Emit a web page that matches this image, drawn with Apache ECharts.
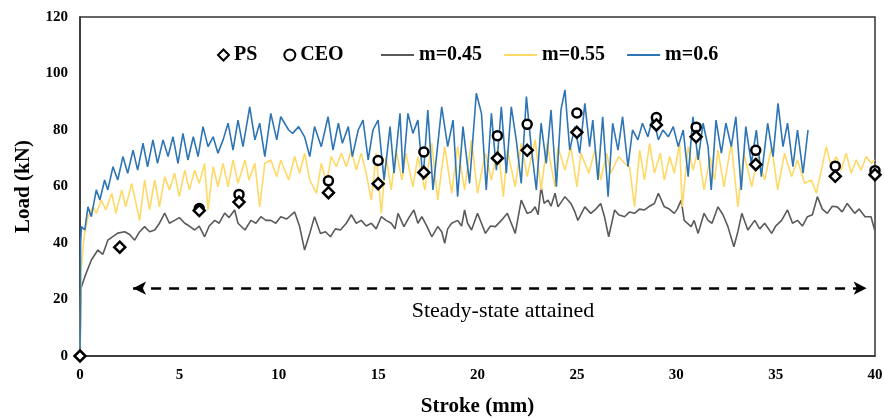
<!DOCTYPE html>
<html>
<head>
<meta charset="utf-8">
<script src="https://cdn.jsdelivr.net/npm/echarts@6/dist/echarts.min.js"></script>
<style>html,body{margin:0;padding:0;background:#fff}#c{width:884px;height:418px}</style>
</head>
<body>
<div id="c"></div>
<script>
// ---- data (x = stroke mm, y = load kN) ----
var xTicks = [0, 5, 10, 15, 20, 25, 30, 35, 40];
var yTicks = [0, 20, 40, 60, 80, 100, 120];

var psX  = [0, 2, 6, 8, 12.5, 15, 17.3, 21, 22.5, 25, 29, 31, 34, 38, 40];
var psY  = [0, 38.5, 51.5, 54.5, 57.8, 61, 65, 70, 72.8, 79.2, 81.8, 77.6, 67.8, 63.6, 64.2];
var ceoX = [6, 8, 12.5, 15, 17.3, 21, 22.5, 25, 29, 31, 34, 38, 40];
var ceoY = [52.2, 57.2, 62, 69.2, 72.2, 78, 82, 86, 84.4, 81, 72.8, 67.2, 65.6];

var m045 = [[0,0],[0.05,24],[0.24,28],[0.57,34],[0.9,37.5],[1.15,36],[1.4,41],[1.9,43.5],[2.25,44],[2.5,43],[2.75,41],[3.0,44],[3.25,45.8],[3.5,44],[3.76,44.6],[4.0,47],[4.26,50.6],[4.5,47],[4.76,48],[5.0,49],[5.27,47],[5.5,46],[5.77,44.6],[6.0,46],[6.27,42.2],[6.5,46],[6.78,48],[7.0,47],[7.28,50.6],[7.5,49],[7.78,51.7],[7.95,47],[8.3,44.6],[8.6,48],[8.85,47],[9.1,49.3],[9.35,48],[9.6,48],[9.85,47],[10.1,49.3],[10.4,48.5],[10.8,51],[11.05,45.8],[11.3,37.5],[11.56,43.4],[11.8,49.3],[12.1,43.4],[12.35,44],[12.6,42.2],[12.85,45],[13.1,44.6],[13.4,47],[13.65,50],[13.9,47],[14.15,48],[14.4,46],[14.66,47],[14.9,45],[15.16,49.3],[15.4,48],[15.66,47],[15.85,45],[16,50.5],[16.3,45.8],[16.55,49],[16.8,51.7],[17.0,47],[17.2,49.3],[17.45,46],[17.7,42.2],[18,45.8],[18.2,44],[18.35,39.9],[18.5,45],[18.7,47],[19,48],[19.2,46],[19.35,51.7],[19.5,47],[19.7,44.6],[20,50.5],[20.2,47],[20.4,43.4],[20.65,46],[20.9,45.8],[21.2,48],[21.5,50.5],[21.7,47],[21.9,43.4],[22.2,55.2],[22.5,50.5],[22.7,51],[22.9,52.8],[23.05,50],[23.2,60],[23.35,54],[23.55,55.2],[23.7,53],[23.9,57.6],[24.05,52.8],[24.4,56.4],[24.7,54],[24.9,51],[25.05,48],[25.4,52.8],[25.7,50.5],[25.95,52],[26.2,54],[26.4,49],[26.6,42.2],[26.9,51.7],[27.1,50],[27.4,49.3],[27.65,51],[27.9,50.5],[28.15,52],[28.4,51.7],[28.65,53],[28.9,54],[29.1,57.6],[29.4,52.8],[29.65,52],[29.9,50.5],[30.05,52],[30.25,55.2],[30.4,48],[30.75,45.8],[30.9,48],[31.1,43.4],[31.4,50.5],[31.6,48],[31.8,47],[32.1,52.8],[32.35,50],[32.6,45.8],[32.9,38.7],[33.1,44],[33.3,50.5],[33.6,44.6],[33.95,48],[34.2,45],[34.45,47],[34.8,43.4],[35.0,46],[35.3,48],[35.6,51.7],[35.85,47],[36.1,48],[36.35,46],[36.6,49.3],[36.85,50],[37.1,56.4],[37.35,52],[37.6,50.5],[37.85,53],[38.1,52.8],[38.35,51],[38.6,54],[38.98,50.5],[39.2,52],[39.5,49.3],[39.8,49.3],[39.98,44.6]];

var m055 = [[0,0],[0.05,30],[0.2,42],[0.4,49.3],[0.65,52.8],[0.82,50.5],[1.07,55.2],[1.3,51.7],[1.6,57.6],[1.8,50.5],[2.1,58.8],[2.3,52.8],[2.6,61.1],[3.0,48],[3.25,62.3],[3.5,51.7],[3.76,62.3],[4.0,52.8],[4.26,63.5],[4.5,58.8],[4.76,64.7],[5.0,56.4],[5.27,65.8],[5.5,58.8],[5.77,65.8],[6.0,61.1],[6.27,68.2],[6.44,51.7],[6.7,67],[6.94,59.9],[7.2,68.2],[7.45,59.9],[7.7,69.4],[7.95,61.1],[8.3,69.4],[8.5,62.3],[8.8,68.2],[9.04,52.8],[9.3,68.2],[9.6,69.4],[9.9,63.5],[10.1,69.4],[10.5,62.3],[10.8,70.6],[11.05,64.7],[11.3,71.8],[11.56,62.3],[11.9,57.6],[12.14,68.2],[12.4,61.1],[12.64,70.6],[12.9,67],[13.15,71.8],[13.4,67],[13.65,72.9],[13.9,65.8],[14.15,71.8],[14.4,64.7],[14.66,55.2],[14.9,71.8],[15.16,50.5],[15.4,70.6],[15.66,58.8],[15.9,72.9],[16.2,62.3],[16.4,71.8],[16.75,59.9],[17,70.6],[17.35,58.8],[17.7,75.3],[18,55.2],[18.35,74.1],[18.7,57.6],[19,74.1],[19.35,58.8],[19.7,76.5],[20,57.6],[20.4,71.8],[20.7,62.3],[21.03,74.1],[21.3,56.4],[21.5,72.9],[21.9,59.9],[22.2,75.3],[22.5,63.5],[22.9,76.5],[23.2,58.8],[23.5,75.3],[23.9,59.9],[24.05,74.1],[24.4,65.8],[24.7,74.1],[25,59.9],[25.2,71.8],[25.6,64.7],[25.9,72.9],[26.2,62.3],[26.5,71.8],[26.7,64.7],[27.1,70.6],[27.4,68.2],[27.65,67],[27.9,52.8],[28.16,72.9],[28.4,62.3],[28.66,75.3],[28.9,64.7],[29.2,71.8],[29.4,62.3],[29.67,70.6],[29.9,64.7],[30.17,75.3],[30.3,52.8],[30.6,74.1],[30.84,65.8],[31.1,72.9],[31.4,58.8],[31.7,70.6],[31.93,62.3],[32.1,72.9],[32.4,59.9],[32.77,75.3],[33.1,52.8],[33.4,71.8],[33.8,59.9],[34.1,70.6],[34.45,62.3],[34.8,74.1],[35.1,58.8],[35.45,71.8],[35.8,63.5],[36.1,69.4],[36.46,61.1],[36.8,62.3],[37.05,57.6],[37.3,65.8],[37.55,74.1],[37.8,67],[38.05,70.6],[38.3,65.8],[38.55,71.8],[38.8,64.7],[39.06,69.4],[39.3,65.8],[39.56,70.6],[39.8,68.2],[39.98,69.4]];

var m06 = [[0,0],[0.03,40],[0.07,45.8],[0.24,44.6],[0.4,52.8],[0.57,49.3],[0.82,58.8],[1.0,55.2],[1.24,62.3],[1.4,58.8],[1.66,67],[1.9,62.3],[2.16,70.6],[2.4,64.7],[2.67,72.9],[2.9,65.8],[3.17,75.3],[3.4,67],[3.67,76.5],[3.9,68.2],[4.18,76.5],[4.43,70.6],[4.68,77.6],[4.93,68.2],[5.18,78.8],[5.43,69.4],[5.7,77.6],[5.94,70.6],[6.19,81.2],[6.44,74.1],[6.7,77.6],[6.94,71.8],[7.2,76.5],[7.45,82.4],[7.7,72.9],[7.95,83.5],[8.2,74.1],[8.54,88.2],[8.8,76.5],[9.04,82.4],[9.3,70.6],[9.6,85.9],[9.9,76.5],[10.1,84.7],[10.5,80],[10.7,78.8],[11,81.2],[11.3,77.6],[11.56,70.6],[11.8,81.2],[12.14,74.1],[12.48,84.7],[12.73,72.9],[13,82.4],[13.2,75.3],[13.5,81.2],[13.7,70.6],[14,80],[14.24,83.5],[14.5,69.4],[14.74,80],[15,83.5],[15.3,62.3],[15.6,81.2],[15.8,64.7],[16.1,85.9],[16.25,64.7],[16.5,85.9],[16.75,78.8],[17,83.5],[17.26,62.3],[17.5,87.1],[17.76,58.8],[18.2,88.2],[18.5,74.1],[18.77,83.5],[19,56.4],[19.27,81.2],[19.6,61.1],[19.94,93],[20.2,85.9],[20.44,58.8],[20.7,85.9],[20.95,65.8],[21.2,88.2],[21.45,64.7],[21.7,88.2],[21.95,76.5],[22.2,61.1],[22.46,91.8],[22.7,74.1],[22.96,58.8],[23.2,82.4],[23.46,68.2],[23.7,87.1],[23.97,59.9],[24.2,87.1],[24.4,94.2],[24.64,72.9],[24.9,81.2],[25.14,71.8],[25.4,89.4],[25.64,74.1],[25.8,83.5],[26.06,62.3],[26.3,84.7],[26.57,56.4],[26.8,82.4],[27.07,72.9],[27.3,84.7],[27.57,67],[27.8,80],[28.07,76.5],[28.3,82.4],[28.57,77.6],[28.83,84.7],[29.1,76.5],[29.33,80],[29.6,77.6],[29.85,81.2],[30.1,74.1],[30.35,80],[30.6,63.5],[30.84,84.7],[31.1,69.4],[31.35,82.4],[31.6,74.1],[31.76,58.8],[32,83.5],[32.27,71.8],[32.5,82.4],[32.77,74.1],[33,84.7],[33.27,58.8],[33.5,81.2],[33.78,68.2],[34.03,80],[34.28,63.5],[34.6,82.4],[34.87,70.6],[35.12,89.4],[35.37,74.1],[35.6,82.4],[35.87,67],[36.1,80],[36.38,64.7],[36.63,80]];

var arrowY = 24, arrowX1 = 2.67, arrowX2 = 39.58;

function pairs(xs, ys) { return xs.map(function (x, i) { return [x, ys[i]]; }); }

var serif = '"Liberation Serif", "Times New Roman", serif';
var chart = echarts.init(document.getElementById('c'), null, { renderer: 'canvas' });
chart.setOption({
  animation: false,
  backgroundColor: '#fff',
  grid: { left: 80, right: 9, top: 17, bottom: 62, containLabel: false, outerBoundsMode: 'none',
    show: true, borderColor: '#333', borderWidth: 1.5, backgroundColor: 'transparent' },
  legend: [
    { data: [{ name: 'PS', icon: 'diamond' }, { name: 'CEO', icon: 'circle' }], left: 212, top: 40, itemWidth: 11, itemHeight: 11, itemGap: 26,
      textStyle: { fontFamily: serif, fontWeight: 'bold', fontSize: 20, color: '#000' } },
    { data: [{ name: 'm=0.45', icon: 'rect' }, { name: 'm=0.55', icon: 'rect' }, { name: 'm=0.6', icon: 'rect' }],
      left: 376, top: 40, itemWidth: 33, itemHeight: 2, itemGap: 22,
      textStyle: { fontFamily: serif, fontWeight: 'bold', fontSize: 20, color: '#000' } }
  ],
  xAxis: {
    type: 'value', min: 0, max: 40, interval: 5,
    name: 'Stroke (mm)', nameLocation: 'middle', nameGap: 40,
    nameTextStyle: { fontFamily: serif, fontWeight: 'bold', fontSize: 21, color: '#000' },
    axisLine: { show: true, lineStyle: { color: '#333', width: 1.5 } },
    axisTick: { show: false }, splitLine: { show: false },
    axisLabel: { fontFamily: serif, fontWeight: 'bold', fontSize: 15, color: '#000', margin: 12,
      formatter: function (v) { return xTicks.indexOf(v) >= 0 ? String(v) : ''; } }
  },
  yAxis: {
    type: 'value', min: 0, max: 120, interval: 20,
    name: 'Load (kN)', nameLocation: 'middle', nameGap: 46, nameRotate: 90,
    nameTextStyle: { fontFamily: serif, fontWeight: 'bold', fontSize: 21, color: '#000' },
    axisLine: { show: true, lineStyle: { color: '#333', width: 1.5 } },
    axisTick: { show: false }, splitLine: { show: false },
    axisLabel: { fontFamily: serif, fontWeight: 'bold', fontSize: 15, color: '#000', margin: 12,
      formatter: function (v) { return yTicks.indexOf(v) >= 0 ? String(v) : ''; } }
  },
  series: [
    { name: 'm=0.45', type: 'line', data: m045, symbol: 'none', z: 2,
      lineStyle: { color: '#5a5a5a', width: 1.6 }, itemStyle: { color: '#5a5a5a' } },
    { name: 'm=0.55', type: 'line', data: m055, symbol: 'none', z: 3,
      lineStyle: { color: '#FFD966', width: 1.6 }, itemStyle: { color: '#FFD966' } },
    { name: 'm=0.6', type: 'line', data: m06, symbol: 'none', z: 4,
      lineStyle: { color: '#2E75B6', width: 1.6 }, itemStyle: { color: '#2E75B6' },
      markLine: {
        silent: true, symbol: ['arrow', 'arrow'], symbolSize: [10, 13],
        lineStyle: { color: '#000', width: 2.5, type: [10, 8] },
        label: { show: false },
        data: [[{ coord: [arrowX1, arrowY] }, { coord: [arrowX2, arrowY] }]]
      } },
    { name: 'PS', type: 'scatter', data: pairs(psX, psY), symbol: 'diamond', symbolSize: 11, z: 6, clip: false,
      itemStyle: { color: '#fff', borderColor: '#000', borderWidth: 2.5, opacity: 1 } },
    { name: 'CEO', type: 'scatter', data: pairs(ceoX, ceoY), symbol: 'circle', symbolSize: 9, z: 5, clip: false,
      itemStyle: { color: '#fff', borderColor: '#000', borderWidth: 2.5, opacity: 1 } }
  ],
  graphic: [
    { type: 'text', x: 503, y: 311, z: 10,
      style: { text: 'Steady-state attained', fontFamily: serif, fontSize: 22, fill: '#000',
        align: 'center', verticalAlign: 'middle', textAlign: 'center', textVerticalAlign: 'middle' } }
  ]
});
</script>
</body>
</html>
